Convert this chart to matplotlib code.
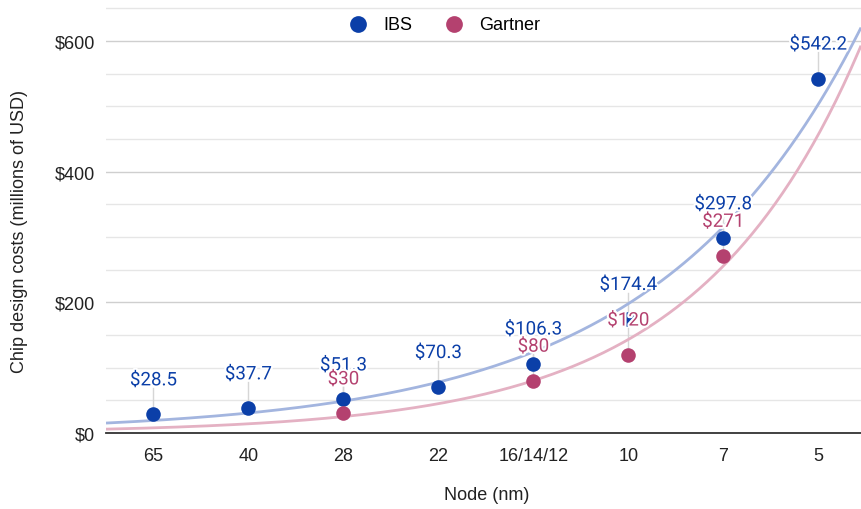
import numpy as np
import matplotlib
matplotlib.use("Agg")
import matplotlib.pyplot as plt
import matplotlib.patheffects as pe
from matplotlib.ticker import MultipleLocator, FuncFormatter

# ---- data
nodes = ["65", "40", "28", "22", "16/14/12", "10", "7", "5"]
ibs_idx = [0, 1, 2, 3, 4, 5, 6, 7]
ibs_cost = [28.5, 37.7, 51.3, 70.3, 106.3, 174.4, 297.8, 542.2]
gartner_idx = [2, 4, 5, 6]
gartner_cost = [30, 80, 120, 271]

IBS_C = "#0b3fa8"
GAR_C = "#b4416f"
IBS_TREND = "#a3b5df"
GAR_TREND = "#e4b1c3"
FONT = "Liberation Sans"


def exp_fit(x, y):
    """y = a*exp(b*x), log fit weighted by the values"""
    x = np.asarray(x, float); y = np.asarray(y, float)
    b, lna = np.polyfit(x, np.log(y), 1, w=np.sqrt(y))
    return np.exp(lna), b


fig = plt.figure(figsize=(8.61, 5.10), dpi=100)
ax = fig.add_axes([106 / 861, 1 - 434 / 510, 1 - 106 / 861, 434 / 510])
ax.set_xlim(-0.5, 7.45)
ax.set_ylim(0, 664)

# trendlines
xs = np.linspace(-0.5, 7.45, 300)
for xi, yi, col in [(ibs_idx, ibs_cost, IBS_TREND), (gartner_idx, gartner_cost, GAR_TREND)]:
    a, b = exp_fit(xi, yi)
    print(col, a, b)
    ax.plot(xs, a * np.exp(b * xs), color=col, lw=2, zorder=2, solid_capstyle="butt")

# points
ax.scatter(ibs_idx, ibs_cost, s=110, color=IBS_C, zorder=4, label="IBS", linewidths=0)
ax.scatter(gartner_idx, gartner_cost, s=110, color=GAR_C, zorder=4, label="Gartner", linewidths=0)

# data labels with leader lines
off = 34 / 0.6533  # label offset in data units (~34 px)
halo = [pe.withStroke(linewidth=3, foreground="white")]
for xi, yi, col in [(ibs_idx, ibs_cost, IBS_C), (gartner_idx, gartner_cost, GAR_C)]:
    for x, y in zip(xi, yi):
        ax.plot([x, x], [y, y + off - 12], color="#d6d6d6", lw=1, zorder=1)
        ax.text(x, y + off, f"${y:g}", ha="center", va="center", color=col, fontsize=13.5,
                family="Roboto", zorder=5, path_effects=halo)

# grid / axes styling
ax.yaxis.set_major_locator(MultipleLocator(200))
ax.yaxis.set_minor_locator(MultipleLocator(50))
ax.yaxis.set_major_formatter(FuncFormatter(lambda v, p: f"${v:.0f}"))
ax.grid(axis="y", which="major", color="#cfcfcf", lw=1, zorder=0)
ax.grid(axis="y", which="minor", color="#e6e6e6", lw=1, zorder=0)
ax.set_axisbelow(True)
for s in ["top", "right", "left"]:
    ax.spines[s].set_visible(False)
ax.spines["bottom"].set_color("#333333")
ax.spines["bottom"].set_linewidth(1.3)
ax.spines["bottom"].set_zorder(6)
ax.tick_params(axis="both", which="both", length=0, labelsize=13, labelcolor="#222222")
ax.tick_params(axis="x", pad=10)
ax.tick_params(axis="y", pad=8)
ax.set_xticks(range(len(nodes)))
ax.set_xticklabels(nodes)
for lab in ax.get_xticklabels() + ax.get_yticklabels():
    lab.set_family(FONT)

fig.text(20 / 861, 1 - 232 / 510, "Chip design costs (millions of USD)", rotation=90,
         ha="center", va="center", fontsize=13, family=FONT, color="#222222")
fig.text(487 / 861, 1 - 496 / 510, "Node (nm)", ha="center", va="center",
         fontsize=13, family=FONT, color="#222222")

fig.legend(loc="center", bbox_to_anchor=(440 / 861, 1 - 25 / 510), ncol=2, frameon=False,
           prop={"family": FONT, "size": 13}, handletextpad=0.4,
           columnspacing=1.3, markerscale=1.15)

fig.savefig("out.png", dpi=100)
